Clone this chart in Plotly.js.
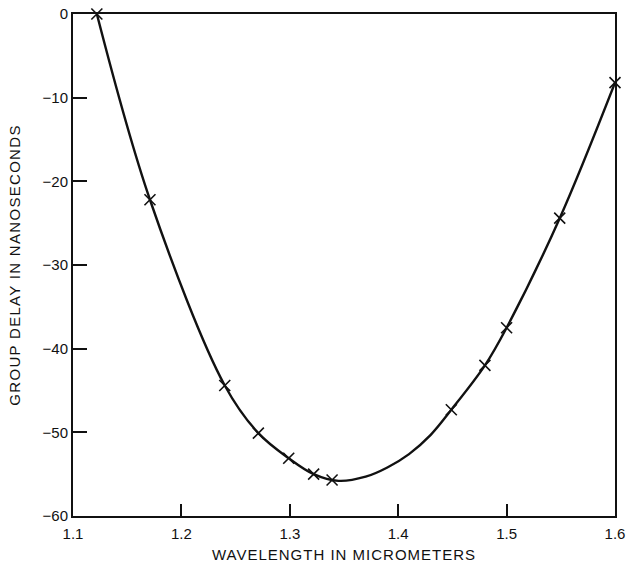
<!DOCTYPE html>
<html>
<head>
<meta charset="utf-8">
<script src="https://cdn.plot.ly/plotly-3.0.1.min.js"></script>
<style>
html,body{margin:0;padding:0;background:#fff;}
#chart{width:626px;height:567px;}
.xtitle{letter-spacing:1px;}
.ytitle{letter-spacing:1.3px;}
</style>
</head>
<body>
<div id="chart"></div>
<script>
// measured points (x marks)
const wavelength = [1.122, 1.171, 1.240, 1.271, 1.299, 1.322, 1.339, 1.449, 1.480, 1.500, 1.549, 1.600];
const groupDelay = [0.0, -22.2, -44.4, -50.1, -53.1, -55.0, -55.7, -47.3, -42.0, -37.5, -24.4, -8.2];
// fitted curve
const curveX = [1.122, 1.171, 1.240, 1.271, 1.299, 1.322, 1.345, 1.370, 1.390, 1.410, 1.430, 1.449, 1.480, 1.500, 1.549, 1.600];
const curveY = [0.0, -22.2, -44.4, -50.1, -53.1, -55.0, -55.8, -55.3, -54.2, -52.6, -50.3, -47.3, -42.0, -37.5, -24.4, -8.2];
const xTicks = [1.1, 1.2, 1.3, 1.4, 1.5, 1.6];
const yTicks = [0, -10, -20, -30, -40, -50, -60];

const font = "Liberation Sans, Arial, Helvetica, sans-serif";

const traces = [
  {
    x: curveX, y: curveY, type: 'scatter', mode: 'lines',
    line: {color: '#111', width: 2.4, shape: 'spline', smoothing: 1.0},
    hoverinfo: 'skip', showlegend: false
  },
  {
    x: wavelength, y: groupDelay, type: 'scatter', mode: 'markers',
    marker: {symbol: 'x-thin-open', size: 11, color: '#111', line: {color: '#111', width: 1.6}},
    showlegend: false, cliponaxis: false
  }
];

const layout = {
  width: 626, height: 567,
  margin: {l: 73, r: 11, t: 14, b: 51},
  paper_bgcolor: '#fff', plot_bgcolor: '#fff',
  font: {family: font, color: '#111', size: 15},
  showlegend: false,
  xaxis: {
    range: [1.1, 1.6], tickvals: xTicks, ticktext: xTicks.map(v => v.toFixed(1)),
    ticks: 'inside', ticklen: 12, tickwidth: 2, tickcolor: '#111',
    showline: true, linecolor: '#111', linewidth: 2, mirror: true,
    showgrid: false, zeroline: false, ticklabelstandoff: 3,
    tickfont: {size: 15, family: font},
    title: {text: 'WAVELENGTH IN MICROMETERS', font: {size: 15, family: font}, standoff: 8}
  },
  yaxis: {
    range: [-60, 0], tickvals: yTicks, ticktext: yTicks.map(v => v < 0 ? '\u2212' + Math.abs(v) : String(v)),
    ticks: 'inside', ticklen: 14, tickwidth: 2, tickcolor: '#111',
    showline: true, linecolor: '#111', linewidth: 2, mirror: true,
    showgrid: false, zeroline: false,
    tickfont: {size: 15, family: font},
    title: {text: 'GROUP DELAY IN NANOSECONDS', font: {size: 15, family: font}, standoff: 18}
  }
};

Plotly.newPlot('chart', traces, layout, {displayModeBar: false, staticPlot: true});
</script>
</body>
</html>
